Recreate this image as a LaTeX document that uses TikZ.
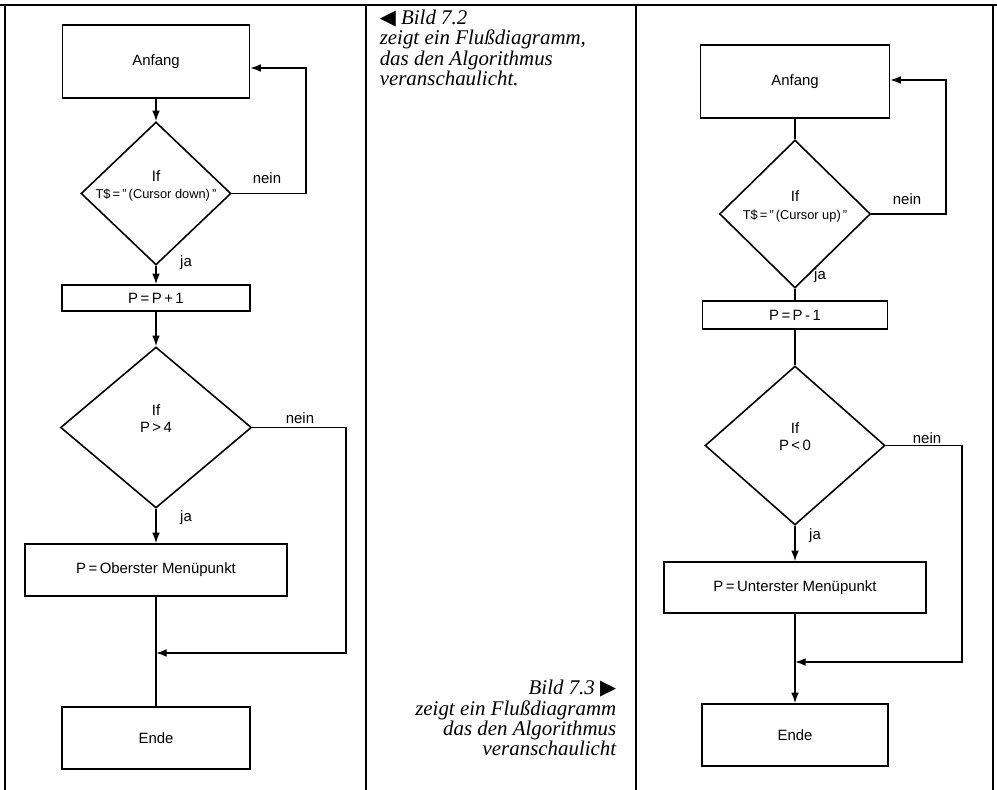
\documentclass[tikz,border=0pt]{standalone}
\usepackage{fontspec}
\setmainfont{Liberation Sans}
\newfontfamily\captionfont{Liberation Serif}
\newfontfamily\symbolfont{DejaVu Sans}
\usetikzlibrary{shapes.geometric, arrows.meta}
\newcommand{\smalltest}{\fontsize{7.3}{9.4}\selectfont}

\begin{document}
\begin{tikzpicture}[x=0.02cm, y=-0.02cm, line width=0.9pt,
        font=\fontsize{8.5}{10}\selectfont,
        box/.style={draw, inner sep=0pt},
        test/.style={draw, diamond, inner sep=-1cm, align=center},
        flow/.style={-{Latex[length=6pt, width=4.4pt]}},
        rule/.style={line width=1pt},
        caption/.style={font=\captionfont\itshape\fontsize{11.9}{11.6}\selectfont, inner sep=0pt}]
        \useasboundingbox (0, 0) rectangle (997, 790);
        % frame
        \draw[rule] (0, 5) -- (997, 5);
        \foreach \x in {5, 366, 636, 993}
            \draw[rule] (\x, 5) -- (\x, 790);

        % Bild 7.2
        \node[box, minimum width=3.74cm, minimum height=1.46cm] at (156, 61.5)  (anfangL) {Anfang};
        \node[test, minimum width=3cm, minimum height=2.86cm]    at (156, 193.5) (ifL1) {If\\{\smalltest T\$\,=\,"\,(Cursor down)\,"}\\\mbox{}};
        \node[box, minimum width=3.76cm, minimum height=0.52cm]  at (156, 298)   (addL) {P\,=\,P\,+\,1};
        \node[test, minimum width=3.82cm, minimum height=3.22cm] at (156, 427.5) (ifL2) {If\\P\,>\,4\\\mbox{}};
        \node[box, minimum width=5.24cm, minimum height=1.04cm]  at (156, 570)   (setL) {P\,=\,Oberster Menüpunkt};
        \node[box, minimum width=3.76cm, minimum height=1.24cm]  at (156, 738)   (endeL) {Ende};
        \coordinate (backL) at (306, 68);
        \coordinate (skipL) at (346, 653);
        \coordinate (joinL) at (156, 653);

        \draw[flow] (anfangL) -- (ifL1);
        \draw[flow] (ifL1) -- (addL);
        \draw[flow] (addL) -- (ifL2);
        \draw[flow] (ifL2) -- (setL);
        \draw (setL) -- (endeL);
        \draw[flow] (ifL1.east) -| (backL) -- (backL -| anfangL.east);
        \draw[flow] (ifL2.east) -| (skipL) -- (joinL);

        \node at (267, 178) (neinL1) {nein};
        \node at (186, 263) (jaL1)   {ja};
        \node at (300, 418) (neinL2) {nein};
        \node at (186, 518) (jaL2)   {ja};

        % Bild 7.3
        \node[box, minimum width=3.78cm, minimum height=1.46cm] at (795, 81.5)  (anfangR) {Anfang};
        \node[test, minimum width=3.02cm, minimum height=2.96cm] at (795, 214)   (ifR1) {If\\{\smalltest T\$\,=\,"\,(Cursor up)\,"}\\\mbox{}};
        \node[box, minimum width=3.7cm, minimum height=0.56cm]   at (795, 315)   (subR) {P\,=\,P\,-\,1};
        \node[test, minimum width=3.6cm, minimum height=3.18cm]  at (795, 445.5) (ifR2) {If\\P\,<\,0\\\mbox{}};
        \node[box, minimum width=5.24cm, minimum height=1.02cm]  at (795, 587.5) (setR) {P\,=\,Unterster Menüpunkt};
        \node[box, minimum width=3.72cm, minimum height=1.24cm]  at (795, 735)   (endeR) {Ende};
        \coordinate (backR) at (946, 80);
        \coordinate (skipR) at (962, 662);
        \coordinate (joinR) at (795, 662);

        \draw (anfangR) -- (ifR1);
        \draw (ifR1) -- (subR);
        \draw (subR) -- (ifR2);
        \draw[flow] (ifR2) -- (setR);
        \draw[flow] (setR) -- (endeR);
        \draw[flow] (ifR1.east) -| (backR) -- (backR -| anfangR.east);
        \draw[flow] (ifR2.east) -| (skipR) -- (joinR);

        \node at (907, 199) (neinR1) {nein};
        \node at (820, 276) (jaR1)   {ja};
        \node at (927, 438) (neinR2) {nein};
        \node at (815, 536) (jaR2)   {ja};

        % captions
        \node[caption, anchor=north west, align=left] at (379, 9) (capA)
            {{\symbolfont\upshape ◀} Bild 7.2\\zeigt ein Flußdiagramm,\\das den Algorithmus\\veranschaulicht.};
        \node[caption, anchor=south east, align=right] at (617, 757) (capB)
            {Bild 7.3 {\symbolfont\upshape ▶}\\zeigt ein Flußdiagramm\\das den Algorithmus\\veranschaulicht};
\end{tikzpicture}
\end{document}
